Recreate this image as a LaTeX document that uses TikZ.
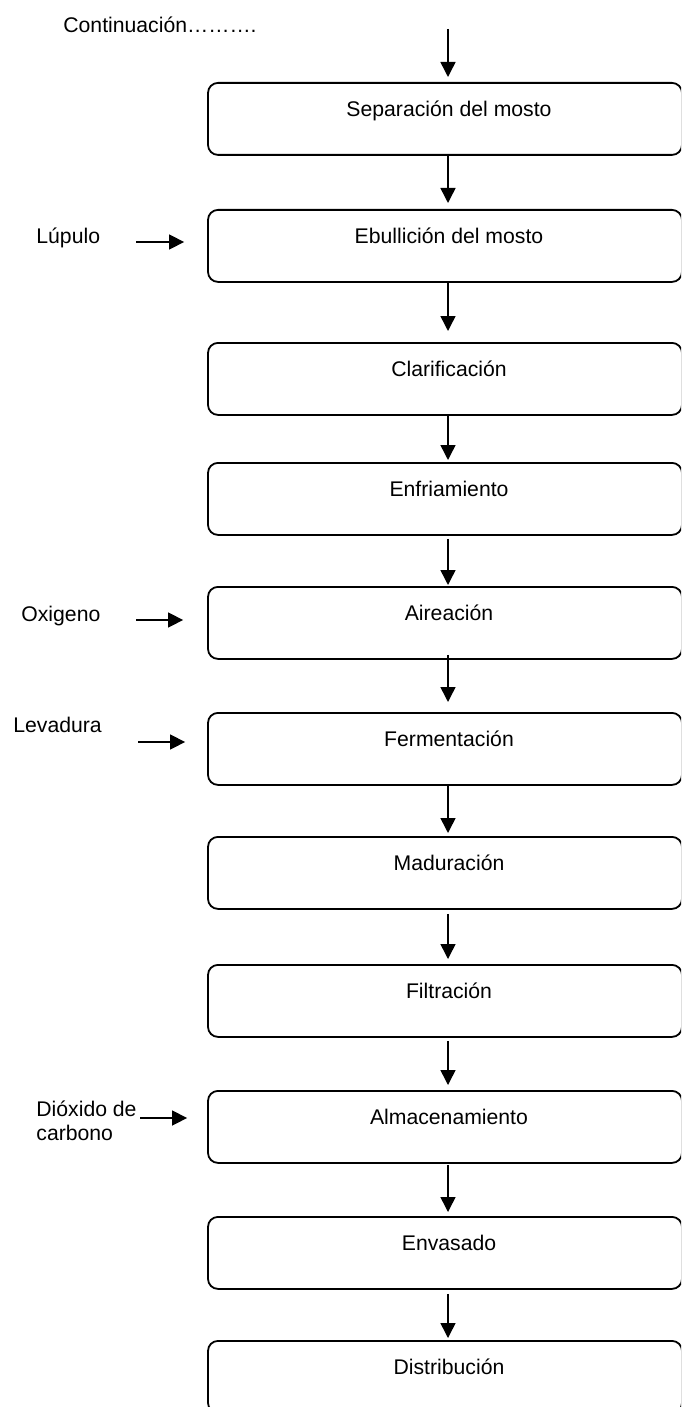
\documentclass[tikz,border=0pt]{standalone}
\usepackage{fontspec}
\setmainfont{Liberation Sans}
\usetikzlibrary{arrows.meta}
\begin{document}
\begin{tikzpicture}[x=0.5pt,y=-0.5pt,
  font=\fontsize{10.6}{12}\selectfont,
  stepbox/.style={draw, line width=0.9pt, rounded corners=5pt, minimum width=237pt,
    inner xsep=0pt, inner ysep=0pt, text height=16.75pt, text depth=19.25pt,
    anchor=north, execute at begin node={\hspace*{4pt}}},
  arr/.style={line width=0.75pt, -{Triangle[length=7.5pt,width=7.5pt]}},
  lbl/.style={inner sep=0pt, anchor=west, align=left}]
\useasboundingbox (0,0) rectangle (681,1407);
\clip (0,0) rectangle (681,1407);
% boxes
\node[stepbox] (b1) at (445,82) {Separación del mosto};
\node[stepbox] (b2) at (445,209) {Ebullición del mosto};
\node[stepbox] (b3) at (445,342) {Clarificación};
\node[stepbox] (b4) at (445,462) {Enfriamiento};
\node[stepbox] (b5) at (445,586) {Aireación};
\node[stepbox] (b6) at (445,712) {Fermentación};
\node[stepbox] (b7) at (445,836) {Maduración};
\node[stepbox] (b8) at (445,964) {Filtración};
\node[stepbox] (b9) at (445,1090) {Almacenamiento};
\node[stepbox] (b10) at (445,1216) {Envasado};
\node[stepbox] (b11) at (445,1340) {Distribución};
% labels
\node[lbl] (cont) at (63,25) {Continuación……….};
\node[lbl] (lup) at (36,238) {Lúpulo};
\node[lbl] (oxi) at (21,616) {Oxigeno};
\node[lbl] (lev) at (13,725) {Levadura};
\node[lbl] (dio) at (36,1121) {Dióxido de\\carbono};
% vertical arrows
\coordinate (top) at (448,29);
\draw[arr, shorten >=2.5pt] (top) -- ([xshift=1.5pt]b1.north);
\draw[arr, shorten >=3pt] ([xshift=1.5pt]b1.south) -- ([xshift=1.5pt]b2.north);
\draw[arr, shorten >=5.5pt] ([xshift=1.5pt]b2.south) -- ([xshift=1.5pt]b3.north);
\draw[arr, shorten >=1pt] ([xshift=1.5pt]b3.south) -- ([xshift=1.5pt]b4.north);
\draw[arr, shorten <=1.5pt, shorten >=0.5pt] ([xshift=1.5pt]b4.south) -- ([xshift=1.5pt]b5.north);
\draw[arr, shorten <=-2.5pt, shorten >=5pt] ([xshift=1.5pt]b5.south) -- ([xshift=1.5pt]b6.north);
\draw[arr, shorten >=1.5pt] ([xshift=1.5pt]b6.south) -- ([xshift=1.5pt]b7.north);
\draw[arr, shorten <=2pt, shorten >=2.5pt] ([xshift=1.5pt]b7.south) -- ([xshift=1.5pt]b8.north);
\draw[arr, shorten <=1.5pt, shorten >=2.5pt] ([xshift=1.5pt]b8.south) -- ([xshift=1.5pt]b9.north);
\draw[arr, shorten <=0.5pt, shorten >=2pt] ([xshift=1.5pt]b9.south) -- ([xshift=1.5pt]b10.north);
\draw[arr, shorten <=2pt, shorten >=1pt] ([xshift=1.5pt]b10.south) -- ([xshift=1.5pt]b11.north);
% side arrows
\coordinate (lupS) at (136,242);
\coordinate (oxiS) at (136,620);
\coordinate (levS) at (138,742);
\coordinate (dioS) at (140,1118);
\draw[arr, shorten >=11.5pt] (lupS) -- (lupS -| b2.west);
\draw[arr, shorten >=12pt] (oxiS) -- (oxiS -| b5.west);
\draw[arr, shorten >=11pt] (levS) -- (levS -| b6.west);
\draw[arr, shorten >=10pt] (dioS) -- (dioS -| b9.west);
\end{tikzpicture}
\end{document}
